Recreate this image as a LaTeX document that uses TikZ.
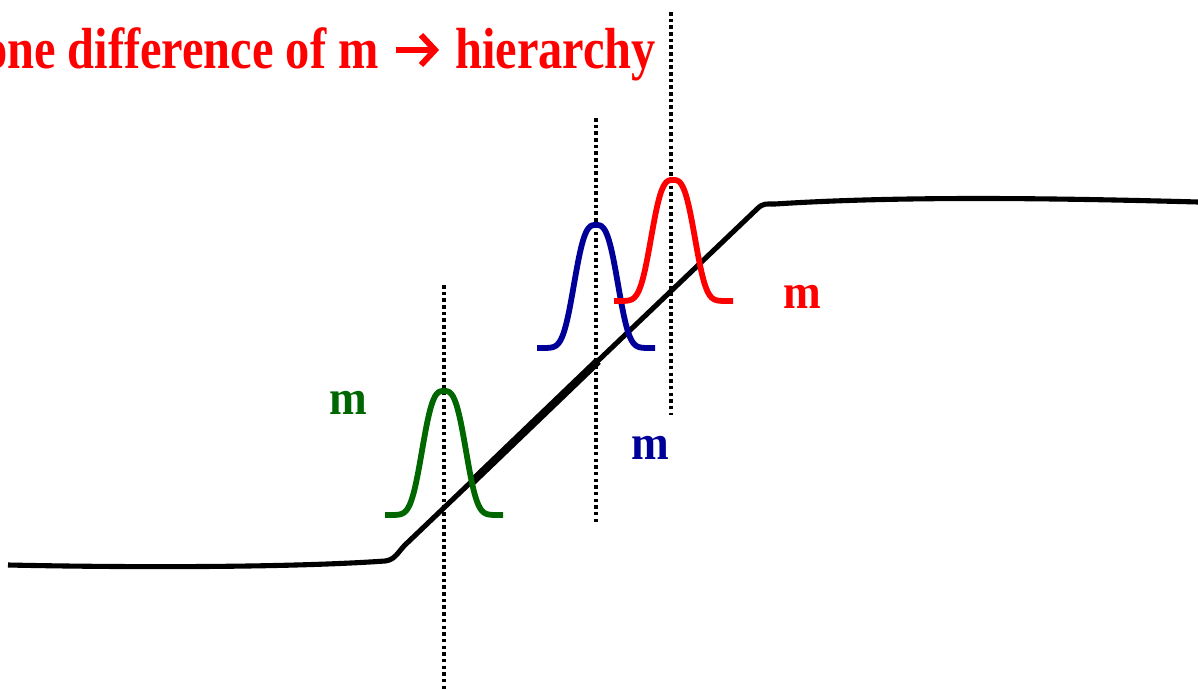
\documentclass[tikz,border=0pt]{standalone}
\usepackage{fontspec}
\setmainfont{Liberation Serif}
\definecolor{gaussgreen}{RGB}{0,102,0}
\definecolor{gaussblue}{RGB}{0,0,153}
\definecolor{gaussred}{RGB}{255,0,0}
\begin{document}
\begin{tikzpicture}[
            x=0.02cm,
            y=-0.02cm,
            profile/.style={line width=2.9pt, line join=round},
            gauss/.style={line width=3.3pt},
            marker/.style={line width=2pt, dash pattern=on 2pt off 1.8pt},
            titletext/.style={inner sep=0pt, xscale=0.835, text=gaussred, font=\bfseries\fontsize{33}{33}\selectfont},
            titlearrow/.style={draw=gaussred, line width=3.4pt, line join=miter},
            mlabel/.style={font=\bfseries\fontsize{28}{28}\selectfont, xscale=0.92, inner sep=0pt}
        ]
        \useasboundingbox (0,0) rectangle (1198,690);
        \clip (0,0) rectangle (1198,690);
        \coordinate (L0) at (8,565);
        \coordinate (L1) at (385,561);
        \coordinate (S0) at (405,545);
        \coordinate (S1) at (757,209);
        \coordinate (R0) at (775,204);
        \coordinate (R1) at (1198,202);
        \coordinate (T0) at (472,482);
        \coordinate (T1) at (598,361);
        \coordinate (A0) at (396,50);
        \coordinate (A1) at (435,50);

        \node[titletext, anchor=base east] (titleleft) at (379,68) {one difference of m};
        \node[titletext, anchor=base west] (titleright) at (455,68) {hierarchy};
        \draw[titlearrow] (A0) -- (A1);
        \draw[titlearrow] (421,35) -- (A1) -- (421,65);

        \draw[marker] (444,285) -- (444,690);
        \draw[marker] (596,118) -- (596,522);
        \draw[marker] (671,12) -- (671,415);

        \draw[profile] (L0) .. controls (150,568) and (300,567) .. (L1)
            .. controls (395,560) and (398,552) .. (S0) -- (S1)
            .. controls (763,203) and (766,204) .. (R0)
            .. controls (900,196) and (1050,198) .. (R1);
        \draw[line width=4.6pt] (T0) -- (T1);

        \draw[gauss, gaussgreen] plot[domain=-59:59, samples=100] ({444+\x}, {515-124*exp(-((\x*\x)/640)^1.5)});
        \draw[gauss, gaussblue] plot[domain=-59:59, samples=100] ({596+\x}, {348-123*exp(-((\x*\x)/640)^1.5)});
        \draw[gauss, gaussred] plot[domain=-59:60, samples=100] ({673+\x}, {301-121*exp(-((\x*\x)/640)^1.5)});

        \node[mlabel, text=gaussgreen] (mgreen) at (348,403) {m};
        \node[mlabel, text=gaussblue] (mblue) at (650,448) {m};
        \node[mlabel, text=gaussred] (mred) at (802,297) {m};
    \end{tikzpicture}
\end{document}
